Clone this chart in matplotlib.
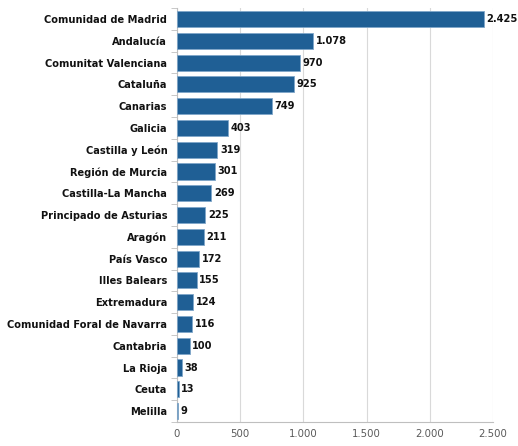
import matplotlib
matplotlib.use("Agg")
import matplotlib.pyplot as plt
from matplotlib.ticker import FuncFormatter

categories = ["Comunidad de Madrid", "Andalucía", "Comunitat Valenciana", "Cataluña",
              "Canarias", "Galicia", "Castilla y León", "Región de Murcia",
              "Castilla-La Mancha", "Principado de Asturias", "Aragón", "País Vasco",
              "Illes Balears", "Extremadura", "Comunidad Foral de Navarra", "Cantabria",
              "La Rioja", "Ceuta", "Melilla"]
values = [2425, 1078, 970, 925, 749, 403, 319, 301, 269, 225, 211, 172, 155, 124, 116, 100, 38, 13, 9]
xticks = [0, 500, 1000, 1500, 2000, 2500]

def es(n):
    return f"{n:,}".replace(",", ".")

plt.rcParams['font.family'] = ['DejaVu Sans']
fig = plt.figure(figsize=(5.18, 4.46), dpi=100)
ax = fig.add_axes([0.3417, 0.0538, 0.61, 0.928])

ypos = list(range(len(categories)))
ax.barh(ypos, values, height=0.74, color="#1F5F95", edgecolor="#7FA6C9", linewidth=0.6, zorder=3)
for y, v in zip(ypos, values):
    ax.text(v + 22, y, es(v), va="center", ha="left", fontsize=7.1, fontweight="bold", color="#111111")

ax.set_ylim(len(categories) - 0.5, -0.5)
ax.set_xlim(0, 2500)
ax.set_yticks(ypos)
ax.set_yticklabels(categories, fontsize=7.1, fontweight="bold", color="#111111")
ax.set_xticks(xticks)
ax.xaxis.set_major_formatter(FuncFormatter(lambda x, p: es(int(x))))
ax.tick_params(axis="x", labelsize=7.3, colors="#595959", length=0, pad=5)
ax.set_yticks([i + 0.5 for i in range(-1, len(categories))], minor=True)
ax.tick_params(axis="y", which="major", length=0, pad=7)
ax.tick_params(axis="y", which="minor", length=4, color="#BFBFBF")
ax.grid(axis="x", color="#D9D9D9", linewidth=0.8, zorder=0)
for s in ["top", "right"]:
    ax.spines[s].set_visible(False)
ax.spines["left"].set_color("#BFBFBF")
ax.spines["bottom"].set_color("#BFBFBF")

fig.savefig("out.png", dpi=100)
